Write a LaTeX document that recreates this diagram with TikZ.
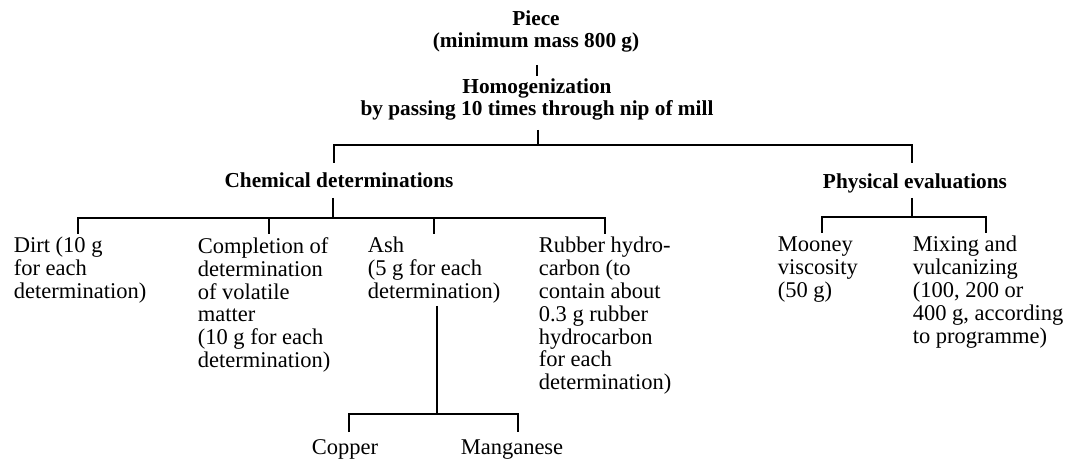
\documentclass[tikz,border=0pt]{standalone}
\usepackage{fontspec}
\setmainfont{Liberation Serif}
\begin{document}
\begin{tikzpicture}[x=1pt,y=-1pt,
  line width=1.7pt,
  conn/.style={draw=black,line cap=butt,line join=miter},
  txt/.style={inner sep=0pt,align=left,anchor=base west,font=\fontsize{22.5}{23}\selectfont},
  ctxt/.style={inner sep=0pt,align=center,anchor=base,font=\fontsize{22.5}{23}\selectfont},
  hd/.style={inner sep=0pt,align=center,anchor=base,font=\fontsize{21.3}{22}\selectfont\bfseries}]
\useasboundingbox[fill=white] (0,0) rectangle (1077,462);

% headings (anchor = baseline of last line)
\node[hd] (piece) at (536,48) {Piece\\(minimum mass 800 g)};
\node[hd] (homog) at (537,116) {Homogenization\\by passing 10 times through nip of mill};
\node[hd] (chem) at (339,188) {Chemical determinations};
\node[hd] (phys) at (915,189) {Physical evaluations};

% leaves (anchor = baseline of last line)
\node[txt] (dirt) at (13,299) {Dirt (10 g\\for each\\determination)};
\node[txt] (compl) at (197,368) {Completion of\\determination\\of volatile\\matter\\(10 g for each\\determination)};
\node[txt] (ash) at (367,299) {Ash\\(5 g for each\\determination)};
\node[txt] (rubber) at (538,390) {Rubber hydro-\\carbon (to\\contain about\\0.3 g rubber\\hydrocarbon\\for each\\determination)};
\node[txt] (mooney) at (777,298) {Mooney\\viscosity\\(50 g)};
\node[txt] (mixing) at (912,344) {Mixing and\\vulcanizing\\(100, 200 or\\400 g, according\\to programme)};
\node[ctxt] (copper) at (345,454) {Copper};
\node[ctxt] (mangan) at (512,454) {Manganese};

% connector points
\coordinate (piece-out) at (537,65);
\coordinate (homog-in) at (537,76);
\coordinate (homog-out) at (538,130);
\coordinate (j1) at (538,145);
\coordinate (chem-in) at (334,163);
\coordinate (phys-in) at (912,163);
\coordinate (chem-out) at (333,198);
\coordinate (j2) at (333,218);
\coordinate (dirt-in) at (78,234);
\coordinate (compl-in) at (269,234);
\coordinate (ash-in) at (434,234);
\coordinate (rubber-in) at (605,234);
\coordinate (phys-out) at (912,198);
\coordinate (j3) at (912,217);
\coordinate (mooney-in) at (822,233);
\coordinate (mixing-in) at (986,233);
\coordinate (ash-out) at (437,306);
\coordinate (j4) at (437,414);
\coordinate (copper-in) at (349,432);
\coordinate (mangan-in) at (518,432);

% connectors
\draw[conn] (piece-out) -- (homog-in);
\draw[conn] (homog-out) -- (j1);
\draw[conn] (chem-in) |- (j1) -| (phys-in);
\draw[conn] (chem-out) -- (j2);
\draw[conn] (dirt-in) |- (j2) -| (rubber-in);
\draw[conn] (compl-in) -- (compl-in |- j2);
\draw[conn] (ash-in) -- (ash-in |- j2);
\draw[conn] (phys-out) -- (j3);
\draw[conn] (mooney-in) |- (j3) -| (mixing-in);
\draw[conn] (ash-out) -- (j4);
\draw[conn] (copper-in) |- (j4) -| (mangan-in);
\end{tikzpicture}
\end{document}
